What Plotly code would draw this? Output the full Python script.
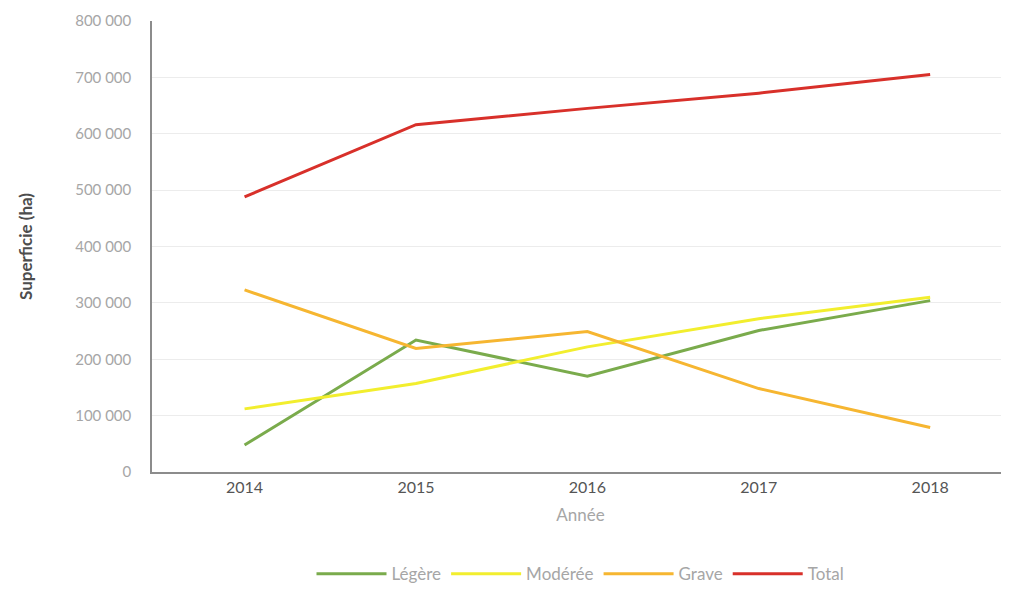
import plotly.graph_objects as go

years = ['2014', '2015', '2016', '2017', '2018']
legere = [48000, 234000, 170000, 251000, 304000]
moderee = [112000, 157000, 222000, 272000, 310000]
grave = [323000, 219000, 249000, 148000, 79000]
total = [488000, 616000, 645000, 672000, 705000]

series = [
    ('Légère', legere, '#7aab4c'),
    ('Modérée', moderee, '#f2ee2e'),
    ('Grave', grave, '#f6b631'),
    ('Total', total, '#d8302a'),
]

fig = go.Figure()
for name, vals, col in series:
    fig.add_trace(go.Scatter(
        x=years, y=vals, name=name, mode='lines',
        line=dict(color=col, width=3)
    ))

# page body has an 8px margin, so the figure is sized/shifted to compensate
fig.update_layout(
    width=1001, height=585,
    margin=dict(l=144, r=0, t=13, b=121),
    paper_bgcolor='white', plot_bgcolor='white',
    font=dict(family='Lato, Open Sans, sans-serif', color='#a6a6a6', size=15),
    showlegend=True,
    legend=dict(
        orientation='h', x=0.5, xanchor='center',
        yref='container', y=0.032, yanchor='middle',
        font=dict(size=17, color='#a6a6a6'),
        itemwidth=70,
    ),
    xaxis=dict(
        type='category', range=[-0.54, 4.46],
        showgrid=False, showline=True, linecolor='#8c8c8c', linewidth=1.5,
        ticks='', tickfont=dict(size=16, color='#555555'),
        title=dict(text='Année', font=dict(size=17, color='#a6a6a6'), standoff=14),
    ),
    yaxis=dict(
        range=[0, 800000], dtick=100000,
        tickformat=',d', separatethousands=True,
        showgrid=True, gridcolor='#ececec', gridwidth=1,
        showline=True, linecolor='#8c8c8c', linewidth=1.5,
        zeroline=False, ticks='', ticklabelstandoff=16,
        tickfont=dict(size=15, color='#a6a6a6'),
        title=dict(text='<b>Superficie (ha)</b>', font=dict(size=17, color='#4d4d4d'), standoff=38),
    ),
    separators=', ',
)

fig.write_html("out.html")
